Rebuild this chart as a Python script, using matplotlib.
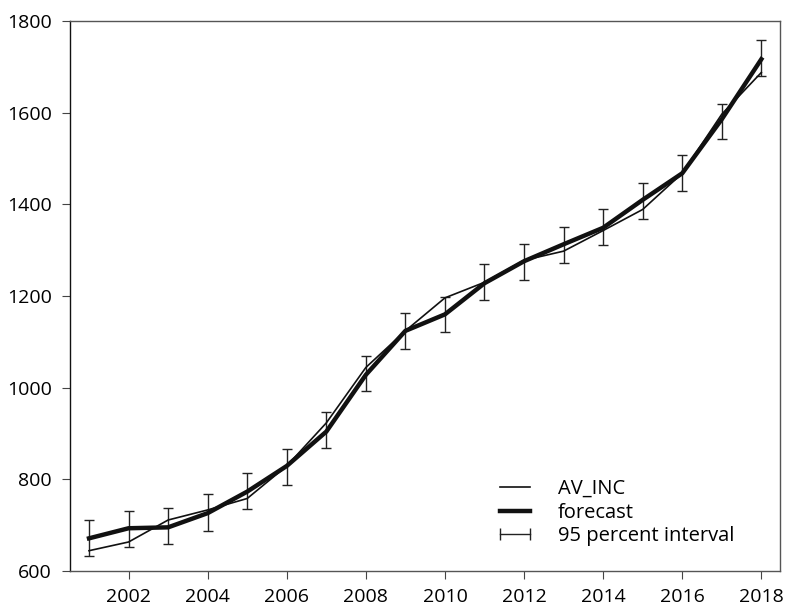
import matplotlib
matplotlib.use('Agg')
import matplotlib.pyplot as plt
from matplotlib.lines import Line2D

plt.rcParams['font.family'] = ['Open Sans', 'DejaVu Sans']

# Data
years = list(range(2001, 2019))
av_inc = [644, 663, 711, 733, 758, 829, 923, 1044, 1124, 1196,
          1230, 1278, 1298, 1343, 1389, 1468, 1597, 1688]
forecast = [671, 693, 695, 726, 773, 829, 904, 1028, 1124, 1160,
            1228, 1276, 1313, 1349, 1410, 1468, 1586, 1717]
lower = [633, 653, 658, 688, 734, 788, 868, 992, 1084, 1121,
         1192, 1235, 1272, 1312, 1368, 1429, 1542, 1681]
upper = [711, 731, 737, 767, 813, 866, 946, 1070, 1163, 1198,
         1269, 1313, 1350, 1390, 1447, 1507, 1620, 1760]
x_ticks = [2002, 2004, 2006, 2008, 2010, 2012, 2014, 2016, 2018]
y_ticks = [600, 800, 1000, 1200, 1400, 1600, 1800]

fig = plt.figure(figsize=(7.87, 6.06), dpi=100)
ax = fig.add_axes([0.089, 0.058, 0.902, 0.907])

err_lo = [f - l for f, l in zip(forecast, lower)]
err_hi = [u - f for f, u in zip(forecast, upper)]
ax.errorbar(years, forecast, yerr=[err_lo, err_hi], fmt='none',
            ecolor='#222222', elinewidth=1, capsize=3.5, capthick=1, zorder=1)
ax.plot(years, av_inc, color='#111111', lw=1.2, zorder=2)
ax.plot(years, forecast, color='#111111', lw=3.2, zorder=3)

ax.set_xlim(2000.52, 2018.47)
ax.set_ylim(600, 1800)
ax.set_xticks(x_ticks)
ax.set_yticks(y_ticks)
ax.tick_params(axis='both', direction='out', length=6, width=0.8,
               color='#444444', labelsize=14, pad=6)
ax.tick_params(axis='y', pad=7)

for side in ['top', 'right', 'bottom']:
    ax.spines[side].set_color('#555555')
    ax.spines[side].set_linewidth(1)
ax.spines['left'].set_color('#111111')
ax.spines['left'].set_linewidth(1)

handles = [
    Line2D([], [], color='#111111', lw=1.2),
    Line2D([], [], color='#111111', lw=3.2),
    Line2D([], [], color='#222222', lw=1, marker='|', markersize=8,
           markeredgewidth=1),
]
labels = ['AV_INC', 'forecast', '95 percent interval']
ax.legend(handles, labels, loc='upper left', bbox_to_anchor=(0.5975, 0.167),
          frameon=False, fontsize=14.5, numpoints=2, handlelength=2.1,
          handletextpad=1.05, labelspacing=0.18, borderpad=0, borderaxespad=0)

fig.savefig('out.png', dpi=100)
